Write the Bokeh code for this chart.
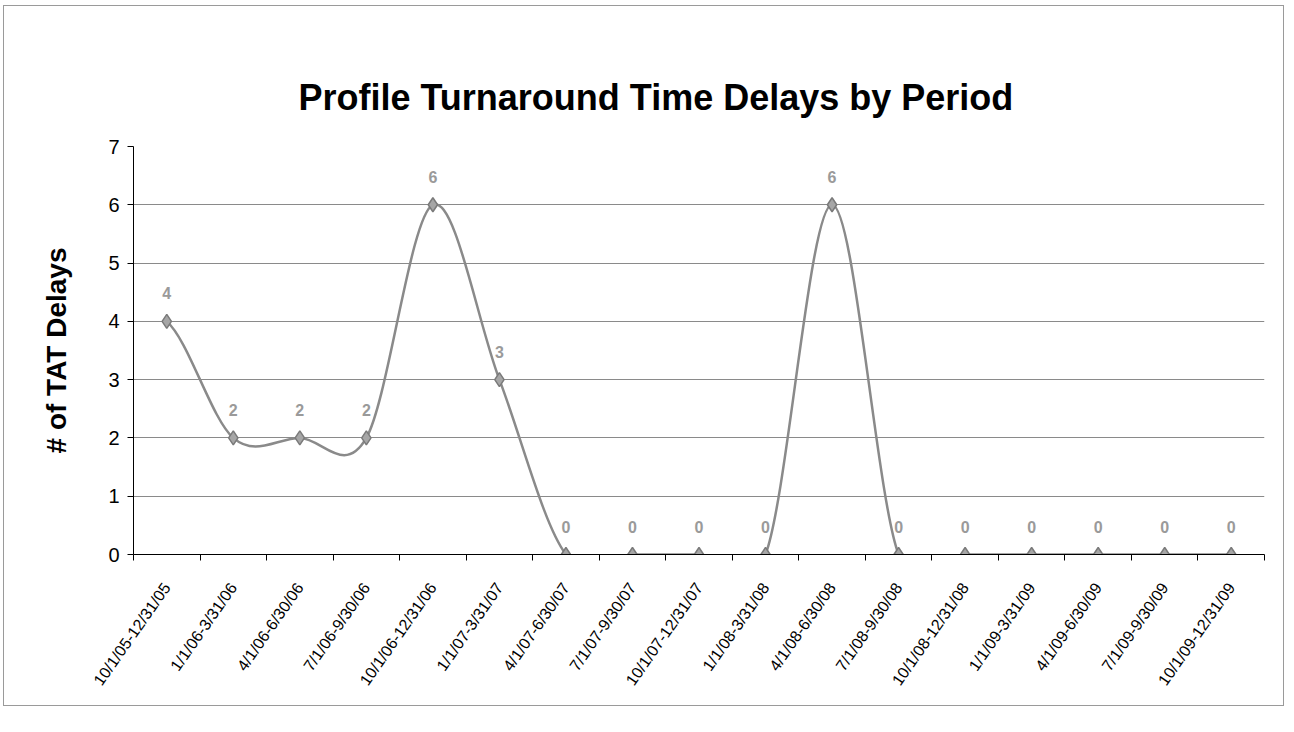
import numpy as np
from bokeh.plotting import figure
from bokeh.models import Range1d, FixedTicker, ColumnDataSource, LabelSet
from bokeh.core.properties import value
from bokeh.embed import file_html
from bokeh.resources import INLINE

periods = ["10/1/05-12/31/05", "1/1/06-3/31/06", "4/1/06-6/30/06", "7/1/06-9/30/06",
           "10/1/06-12/31/06", "1/1/07-3/31/07", "4/1/07-6/30/07", "7/1/07-9/30/07",
           "10/1/07-12/31/07", "1/1/08-3/31/08", "4/1/08-6/30/08", "7/1/08-9/30/08",
           "10/1/08-12/31/08", "1/1/09-3/31/09", "4/1/09-6/30/09", "7/1/09-9/30/09",
           "10/1/09-12/31/09"]
delays = [4, 2, 2, 2, 6, 3, 0, 0, 0, 0, 6, 0, 0, 0, 0, 0, 0]
y_ticks = [0, 1, 2, 3, 4, 5, 6, 7]

n = len(periods)
xs = np.arange(n, dtype=float)
ys = np.array(delays, dtype=float)

FONT = "Liberation Sans"

p = figure(width=1281, height=701, output_backend="svg", toolbar_location=None,
           x_range=Range1d(-0.5, n - 0.5), y_range=Range1d(0, 7),
           min_border_left=129, min_border_right=21, min_border_bottom=153, min_border_top=140)
p.styles = {"border": "1px solid #9a9a9a", "margin-left": "3px", "margin-top": "5px"}
p.outline_line_color = None
p.background_fill_color = "white"

p.title.text = "Profile Turnaround Time Delays by Period"
p.title.text_font = FONT
p.title.text_font_size = "36px"
p.title.text_font_style = "bold"
p.title.text_color = "black"
p.title.align = "left"
p.title.offset = 165
p.title.standoff = 57

# grid
p.xgrid.grid_line_color = None
p.ygrid.ticker = FixedTicker(ticks=y_ticks)
p.ygrid.grid_line_color = "#8a8a8a"
p.ygrid.grid_line_width = 1

# y axis
p.yaxis.ticker = FixedTicker(ticks=y_ticks)
p.yaxis.axis_label = "# of TAT Delays"
p.yaxis.axis_label_text_font = FONT
p.yaxis.axis_label_text_font_size = "28px"
p.yaxis.axis_label_text_font_style = "bold"
p.yaxis.axis_label_text_color = "black"
p.yaxis.axis_label_standoff = 33
p.yaxis.major_label_text_font = FONT
p.yaxis.major_label_text_font_size = "20px"
p.yaxis.major_label_text_color = "black"
p.yaxis.major_label_standoff = 8
p.yaxis.axis_line_color = "black"
p.yaxis.major_tick_line_color = "black"
p.yaxis.major_tick_in = 0
p.yaxis.major_tick_out = 6
p.yaxis.minor_tick_line_color = None

# x axis: labels at centers, ticks at boundaries
p.xaxis.ticker = FixedTicker(ticks=list(range(n)), minor_ticks=[i + 0.5 for i in range(-1, n)])
p.xaxis.major_label_overrides = {i: lab for i, lab in enumerate(periods)}
p.xaxis.major_label_orientation = 0.96
p.xaxis.major_label_text_font = FONT
p.xaxis.major_label_text_font_size = "16px"
p.xaxis.major_label_text_color = "black"
p.xaxis.major_label_standoff = 24
p.xaxis.major_tick_in = 0
p.xaxis.major_tick_out = 0
p.xaxis.minor_tick_in = 0
p.xaxis.minor_tick_out = 6
p.xaxis.minor_tick_line_color = "black"
p.xaxis.axis_line_color = "black"

# smoothed line (Catmull-Rom style bezier segments through the data points)
yp = np.concatenate([[ys[0]], ys, [ys[-1]]])
x0 = xs[:-1]; x1 = xs[1:]
y0 = ys[:-1]; y1 = ys[1:]
cx0 = x0 + 1 / 3
cx1 = x1 - 1 / 3
cy0 = y0 + (yp[2:n + 1] - yp[0:n - 1]) / 6
cy1 = y1 - (yp[3:n + 2] - yp[1:n]) / 6
p.bezier(x0=x0, y0=y0, x1=x1, y1=y1, cx0=cx0, cy0=cy0, cx1=cx1, cy1=cy1,
         line_color="#8a8a8a", line_width=2.5)

src = ColumnDataSource(dict(x=xs, y=ys, lab=[str(v) for v in delays]))
p.scatter("x", "y", source=src, marker="diamond", size=14,
          fill_color="#a6a6a6", line_color="#7a7a7a", line_width=1.5)

labels = LabelSet(x="x", y="y", text="lab", source=src, y_offset=22,
                  text_align="center", text_baseline="bottom",
                  text_font=value(FONT), text_font_size="16px",
                  text_font_style="bold", text_color="#9a9a9a")
p.add_layout(labels)

open("out.html", "w").write(file_html(p, INLINE))
